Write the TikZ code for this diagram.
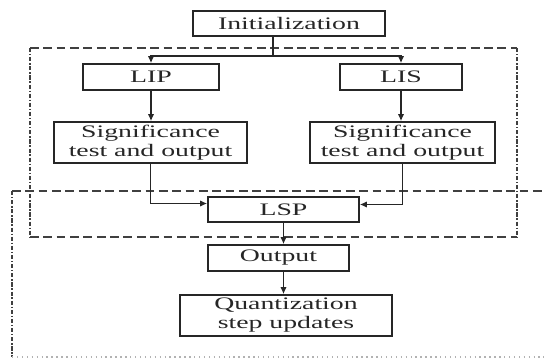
\documentclass[tikz,border=0pt]{standalone}
\usepackage{fontspec}
\setmainfont[FakeStretch=1.58]{Liberation Serif}
\usetikzlibrary{arrows.meta,positioning}

\begin{document}
\begin{tikzpicture}[
    block/.style={rectangle, draw=black!85, line width=0.85pt, inner sep=0pt,
                  minimum height=0.5cm, align=center, text=black!85,
                  font=\fontsize{10}{10.8}\selectfont},
    tall/.style={block, minimum height=0.82cm},
    link/.style={draw=black!85, line width=0.8pt},
    arr/.style={link, -{Latex[length=4pt,width=3.6pt]}},
    rim/.style={draw=black!75, line width=0.85pt, dash pattern=on 5pt off 2.6pt},
    side/.style={draw=black!75, line width=0.85pt, dash pattern=on 2.4pt off 1pt on 0.8pt off 1pt},
    base/.style={draw=black!30, line width=0.8pt, dotted}
]
\useasboundingbox (0,0) rectangle (10.88,7.2);

% Frame round the sorting pass
\draw[rim] (0.6,6.24) -- (10.34,6.24);
\draw[rim] (0.6,2.46) -- (10.34,2.46);
\draw[side] (0.6,6.24) -- (0.6,2.46);
\draw[side] (10.34,6.24) -- (10.34,2.46);

% Frame round the refinement pass (runs off to the right)
\draw[rim] (0.24,3.38) -- (10.88,3.38);
\draw[side] (0.24,3.38) -- (0.24,0.06);
\draw[base] (0.24,0.06) -- (10.88,0.06);

% Top
\node[block, minimum width=3.84cm] (init) at (5.78,6.73) {Initialization};

% Two lists
\node[block, minimum width=2.72cm, minimum height=0.52cm] (lip) at (3.02,5.66) {LIP};
\node[block, minimum width=2.44cm, minimum height=0.52cm] (lis) at (8.02,5.66) {LIS};
\node[tall, minimum width=3.86cm] (sigl) at (3.01,4.35) {Significance\\test and output};
\node[tall, minimum width=3.7cm] (sigr) at (8.05,4.35) {Significance\\test and output};

% Middle column
\node[block, minimum width=3.02cm] (lsp) at (5.67,3.01) {LSP};
\node[block, minimum width=2.82cm, minimum height=0.52cm] (out) at (5.57,2.04) {Output};
\node[tall, minimum width=4.24cm] (quant) at (5.72,0.89) {Quantization\\step updates};

% Connectors
\coordinate (split) at (5.46,6.08);
\draw[link] (init.south -| split) -- (split);
\draw[arr] (split) -| (lip);
\draw[arr] (split) -| (lis);
\draw[arr] (lip.south) -- (lip.south |- sigl.north);
\draw[arr] (lis.south) -- (lis.south |- sigr.north);
\draw[arr] (sigl.south) |- ([yshift=0.12cm]lsp.west);
\draw[arr] (sigr.south) |- ([yshift=0.1cm]lsp.east);
\draw[arr] (lsp.south) -- (lsp.south |- out.north);
\draw[arr] (out.south -| lsp) -- (quant.north -| lsp);

\end{tikzpicture}
\end{document}
